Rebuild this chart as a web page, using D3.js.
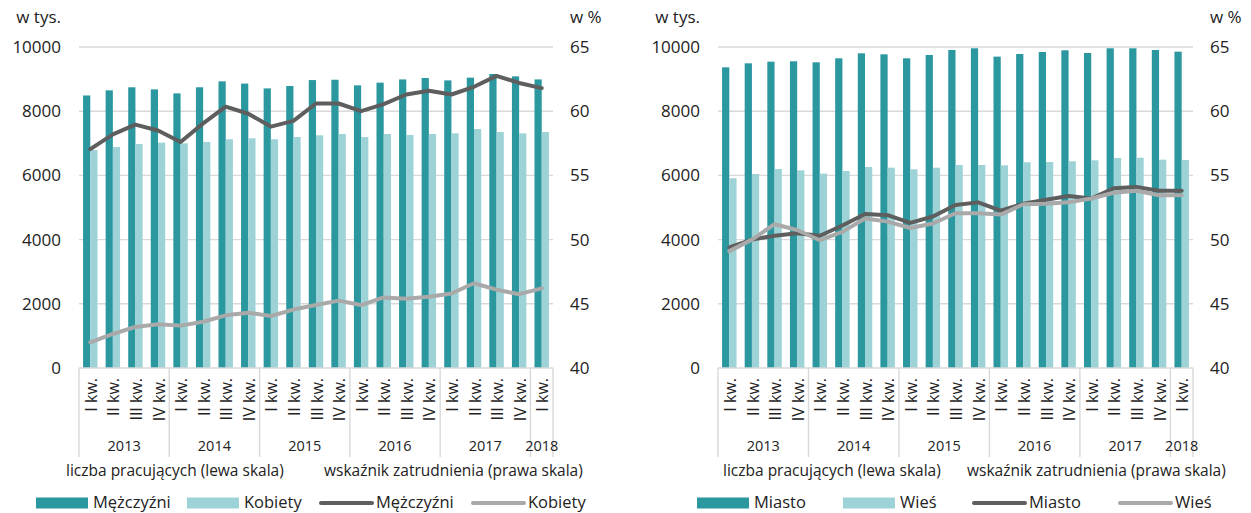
<!DOCTYPE html>
<html>
<head>
<meta charset="utf-8">
<script src="https://cdn.jsdelivr.net/npm/d3@7"></script>
<style>
  body { margin: 0; background: #fff; }
  text { font-family: "Open Sans", "Noto Sans", sans-serif; fill: #222; }
</style>
</head>
<body>
<svg id="chart" width="1251" height="513"></svg>
<script>
/********
 * Data *
 ********/

var years = ["2013", "2014", "2015", "2016", "2017", "2018"];
var quartersPerYear = [4, 4, 4, 4, 4, 1];
var quarterNames = ["I kw.", "II kw.", "III kw.", "IV kw."];

var leftTicks = [0, 2000, 4000, 6000, 8000, 10000];
var rightTicks = [40, 45, 50, 55, 60, 65];

// lewy wykres: płeć
var menCount = [8490, 8650, 8745, 8680, 8555, 8745, 8930, 8860, 8710, 8785, 8970,
                8980, 8805, 8890, 8990, 9035, 8960, 9045, 9160, 9085, 8990];
var womenCount = [6790, 6885, 6980, 7020, 7000, 7040, 7125, 7155, 7125, 7195, 7250,
                  7290, 7195, 7290, 7260, 7290, 7310, 7445, 7350, 7310, 7350];
var menRate = [57.05, 58.2, 58.95, 58.5, 57.6, 59.05, 60.35, 59.8, 58.8, 59.25, 60.6,
               60.6, 60.0, 60.55, 61.3, 61.6, 61.3, 61.9, 62.75, 62.2, 61.8];
var womenRate = [42.0, 42.65, 43.2, 43.4, 43.3, 43.6, 44.1, 44.3, 44.05, 44.55, 44.9,
                 45.25, 44.9, 45.5, 45.4, 45.55, 45.8, 46.6, 46.1, 45.75, 46.2];

// prawy wykres: miejsce zamieszkania
var cityCount = [9367, 9492, 9543, 9555, 9523, 9648, 9803, 9772, 9648, 9751, 9907,
                 9960, 9700, 9782, 9844, 9897, 9813, 9960, 9960, 9907, 9855];
var villageCount = [5910, 6044, 6200, 6158, 6054, 6137, 6262, 6241, 6190, 6241, 6324,
                    6324, 6314, 6408, 6417, 6440, 6470, 6542, 6552, 6490, 6480];
var cityRate = [49.4, 50.0, 50.3, 50.5, 50.3, 51.1, 52.0, 51.9, 51.3, 51.8, 52.7,
                52.9, 52.25, 52.8, 53.1, 53.4, 53.2, 54.0, 54.1, 53.8, 53.8];
var villageRate = [49.1, 50.0, 51.2, 50.75, 49.95, 50.6, 51.65, 51.4, 50.9, 51.25, 52.05,
                   52.05, 51.95, 52.75, 52.8, 52.9, 53.2, 53.65, 53.8, 53.45, 53.45];

var leftCaption = "liczba pracujących (lewa skala)";
var rightCaption = "wskaźnik zatrudnienia (prawa skala)";

/**********
 * Layout *
 **********/

var plotTop = 47;
var plotBottom = 368;
var darkBar = "#2b98a0";
var lightBar = "#9dd3d7";
var darkLine = "#5e5e5e";
var lightLine = "#a9a9a9";
var gridColor = "#d9d9d9";

// kategorie: kwartał w roku
var categories = [];
years.forEach(function(y, yi) {
    for (var q = 0; q < quartersPerYear[yi]; q++) {
        categories.push({ year: y, quarter: quarterNames[q] });
    }
});

var svg = d3.select("#chart");
svg.append("rect").attr("width", 1251).attr("height", 513).attr("fill", "#fff");

function drawPanel(cfg) {
    var g = svg.append("g");

    var x = d3.scaleBand()
        .domain(d3.range(categories.length))
        .range([cfg.left, cfg.right])
        .paddingInner(0.36)
        .paddingOuter(0.18);

    var xSub = d3.scaleBand()
        .domain([0, 1])
        .range([0, x.bandwidth()]);

    var yLeft = d3.scaleLinear().domain([0, 10000]).range([plotBottom, plotTop]);
    var yRight = d3.scaleLinear().domain([40, 65]).range([plotBottom, plotTop]);

    // gridlines
    g.selectAll(".grid")
        .data(leftTicks.slice(1))
        .enter().append("line")
        .attr("x1", cfg.left).attr("x2", cfg.right)
        .attr("y1", function(d) { return yLeft(d); })
        .attr("y2", function(d) { return yLeft(d); })
        .attr("stroke", gridColor)
        .attr("stroke-width", 1.4);

    // bars
    var barSeries = [
        { values: cfg.barA, color: darkBar },
        { values: cfg.barB, color: lightBar }
    ];
    barSeries.forEach(function(s, k) {
        g.selectAll(null)
            .data(s.values)
            .enter().append("rect")
            .attr("x", function(d, i) { return x(i) + xSub(k); })
            .attr("width", xSub.bandwidth())
            .attr("y", function(d) { return yLeft(d); })
            .attr("height", function(d) { return plotBottom - yLeft(d); })
            .attr("fill", s.color);
    });

    // x axis line + year separators
    g.append("line")
        .attr("x1", cfg.left).attr("x2", cfg.right)
        .attr("y1", plotBottom).attr("y2", plotBottom)
        .attr("stroke", gridColor).attr("stroke-width", 1.4);

    var bounds = [0];
    quartersPerYear.forEach(function(c, i) { bounds.push(bounds[i] + c); });
    var step = x.step();

    g.selectAll(".sep")
        .data(bounds)
        .enter().append("line")
        .attr("x1", function(d) { return cfg.left + d * step; })
        .attr("x2", function(d) { return cfg.left + d * step; })
        .attr("y1", plotBottom).attr("y2", 457)
        .attr("stroke", gridColor).attr("stroke-width", 1.4);

    // quarter labels
    g.selectAll(".qlab")
        .data(categories)
        .enter().append("text")
        .attr("transform", function(d, i) {
            return "translate(" + (x(i) + x.bandwidth() / 2 + 1) + ",378) rotate(-90)";
        })
        .attr("text-anchor", "end")
        .attr("dy", "0.35em")
        .attr("font-size", "16px")
        .text(function(d) { return d.quarter; });

    // year labels
    g.selectAll(".ylab")
        .data(years)
        .enter().append("text")
        .attr("x", function(d, i) { return cfg.left + (bounds[i] + bounds[i + 1]) / 2 * step; })
        .attr("y", 451)
        .attr("text-anchor", "middle")
        .attr("font-size", "14.5px")
        .text(function(d) { return d; });

    // lines
    var line = d3.line()
        .x(function(d, i) { return x(i) + x.bandwidth() / 2; })
        .y(function(d) { return yRight(d); });

    [{ values: cfg.lineA, color: darkLine }, { values: cfg.lineB, color: lightLine }]
        .forEach(function(s) {
            g.append("path")
                .datum(s.values)
                .attr("d", line)
                .attr("fill", "none")
                .attr("stroke", s.color)
                .attr("stroke-width", 4)
                .attr("stroke-linejoin", "round")
                .attr("stroke-linecap", "round");
        });

    // axes
    var leftAxis = g.append("g")
        .call(d3.axisLeft(yLeft).tickValues(leftTicks).tickSize(0).tickPadding(18).tickFormat(d3.format("d")))
        .attr("transform", "translate(" + cfg.left + ",0)");
    var rightAxis = g.append("g")
        .call(d3.axisRight(yRight).tickValues(rightTicks).tickSize(0).tickPadding(17).tickFormat(d3.format("d")))
        .attr("transform", "translate(" + cfg.right + ",0)");
    [leftAxis, rightAxis].forEach(function(a) {
        a.select(".domain").remove();
        a.attr("font-family", null).attr("font-size", null);
        a.selectAll("text").attr("font-size", "17px").style("fill", "#222");
    });

    g.append("text")
        .attr("x", cfg.left - 18).attr("y", 23)
        .attr("text-anchor", "end")
        .attr("font-size", "17px")
        .text("w tys.");
    g.append("text")
        .attr("x", cfg.right + 17).attr("y", 23)
        .attr("font-size", "17px")
        .text("w %");

    // captions
    g.append("text")
        .attr("x", cfg.captionX[0]).attr("y", 476)
        .attr("font-size", "15.5px")
        .text(leftCaption);
    g.append("text")
        .attr("x", cfg.captionX[1]).attr("y", 476)
        .attr("font-size", "15.5px")
        .text(rightCaption);

    // legend
    var items = [
        { type: "bar", color: darkBar, label: cfg.labelA },
        { type: "bar", color: lightBar, label: cfg.labelB },
        { type: "line", color: darkLine, label: cfg.labelA },
        { type: "line", color: lightLine, label: cfg.labelB }
    ];
    items.forEach(function(it, i) {
        var lx = cfg.legendX[i];
        if (it.type === "bar") {
            g.append("rect")
                .attr("x", lx).attr("y", 497.5)
                .attr("width", 52).attr("height", 11)
                .attr("fill", it.color);
        } else {
            g.append("line")
                .attr("x1", lx + 2).attr("x2", lx + 53)
                .attr("y1", 503).attr("y2", 503)
                .attr("stroke", it.color).attr("stroke-width", 4)
                .attr("stroke-linecap", "round");
        }
        g.append("text")
            .attr("x", lx + 57).attr("y", 508)
            .attr("font-size", "16.5px")
            .text(it.label);
    });
}

drawPanel({
    left: 79, right: 553,
    barA: menCount, barB: womenCount,
    lineA: menRate, lineB: womenRate,
    labelA: "Mężczyźni", labelB: "Kobiety",
    captionX: [66, 324],
    legendX: [36, 187, 319, 471]
});

drawPanel({
    left: 718, right: 1193,
    barA: cityCount, barB: villageCount,
    lineA: cityRate, lineB: villageRate,
    labelA: "Miasto", labelB: "Wieś",
    captionX: [723, 967],
    legendX: [697, 843, 972, 1118]
});
</script>
</body>
</html>
